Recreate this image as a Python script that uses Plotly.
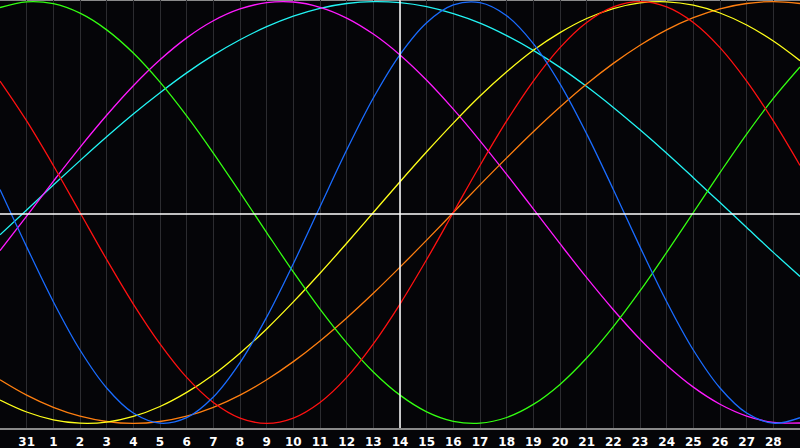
import plotly.graph_objects as go

# days shown: -1 .. 29 (0 = the 31st of previous month)
days = list(range(-1, 30))
tick_days = list(range(0, 29))
tick_labels = ["31"] + [str(d) for d in range(1, 29)]

# curve values, one per day
blue = [0.109, -0.163, -0.423, -0.652, -0.832, -0.951, -0.999, -0.973, -0.875, -0.712,
        -0.496, -0.243, 0.027, 0.296, 0.543, 0.749, 0.900, 0.984, 0.995, 0.933,
        0.801, 0.610, 0.373, 0.109, -0.163, -0.423, -0.652, -0.832, -0.951, -0.999, -0.973]
red = [0.623, 0.434, 0.223, 0.0, -0.223, -0.434, -0.623, -0.782, -0.901, -0.975,
       -1.0, -0.975, -0.901, -0.782, -0.623, -0.434, -0.223, 0.0, 0.223, 0.434,
       0.623, 0.782, 0.901, 0.975, 1.0, 0.975, 0.901, 0.782, 0.623, 0.434, 0.223]
green = [0.972, 0.999, 0.990, 0.945, 0.866, 0.756, 0.618, 0.458, 0.282, 0.095,
         -0.095, -0.282, -0.458, -0.618, -0.756, -0.866, -0.945, -0.990, -0.999, -0.972,
         -0.910, -0.815, -0.690, -0.541, -0.372, -0.189, 0.0, 0.189, 0.372, 0.541, 0.690]
magenta = [-0.181, -0.017, 0.148, 0.309, 0.461, 0.601, 0.724, 0.828, 0.909, 0.965,
           0.995, 0.998, 0.973, 0.922, 0.846, 0.747, 0.627, 0.490, 0.340, 0.181,
           0.017, -0.148, -0.309, -0.461, -0.601, -0.724, -0.828, -0.909, -0.965, -0.995, -0.998]
yellow = [-0.889, -0.946, -0.983, -0.999, -0.994, -0.967, -0.920, -0.853, -0.769, -0.667,
          -0.552, -0.424, -0.288, -0.146, 0.0, 0.146, 0.288, 0.424, 0.552, 0.667,
          0.769, 0.853, 0.920, 0.967, 0.994, 0.999, 0.983, 0.946, 0.889, 0.813, 0.720]
orange = [-0.793, -0.866, -0.924, -0.966, -0.991, -1.0, -0.991, -0.966, -0.924, -0.866,
          -0.793, -0.707, -0.609, -0.5, -0.383, -0.259, -0.131, 0.0, 0.131, 0.259,
          0.383, 0.5, 0.609, 0.707, 0.793, 0.866, 0.924, 0.966, 0.991, 1.0, 0.991]
cyan = [-0.106, 0.012, 0.130, 0.246, 0.359, 0.467, 0.568, 0.662, 0.746, 0.819,
        0.881, 0.931, 0.968, 0.991, 1.0, 0.995, 0.976, 0.943, 0.898, 0.839,
        0.769, 0.688, 0.597, 0.498, 0.392, 0.281, 0.165, 0.047, -0.071, -0.189, -0.303]

series = [
    (cyan, "#22f4f4"),
    (magenta, "#ff1aff"),
    (orange, "#ff7f10"),
    (yellow, "#ffff1a"),
    (green, "#33ff11"),
    (red, "#ff1111"),
    (blue, "#1a6cff"),
]

fig = go.Figure()
for vals, col in series:
    fig.add_trace(go.Scatter(x=days, y=vals, mode="lines",
                             line=dict(color=col, width=1.3, shape="spline", smoothing=1.0),
                             hoverinfo="skip", showlegend=False))

# today marker and zero line
fig.add_shape(type="line", xref="x", yref="paper", x0=14, x1=14, y0=0, y1=1,
              line=dict(color="white", width=1.5), layer="above")
fig.add_shape(type="line", xref="paper", yref="paper", x0=0, x1=1, y0=0.5, y1=0.5,
              line=dict(color="white", width=1.5), layer="above")
# top border
fig.add_shape(type="line", xref="paper", yref="paper", x0=0, x1=1, y0=1, y1=1,
              line=dict(color="#8a8a8a", width=2), layer="below")

fig.update_layout(
    width=800, height=448,
    margin=dict(l=0, r=0, t=0, b=20),
    paper_bgcolor="#050508",
    plot_bgcolor="#050508",
    xaxis=dict(range=[-1, 29], tickvals=tick_days, ticktext=tick_labels,
               showgrid=True, gridcolor="#2c2c30", gridwidth=1,
               zeroline=False, showline=True, linecolor="#8a8a8a", linewidth=2,
               ticks="", ticklabelstandoff=2,
               tickfont=dict(family="DejaVu Sans", size=12, color="white", weight="bold")),
    yaxis=dict(range=[-1.0218, 1.0076], showgrid=False, zeroline=False,
               showticklabels=False, showline=True, linecolor="#8a8a8a", linewidth=2),
)

fig.write_html("out.html", config={"displayModeBar": False},
               post_script="document.body.style.margin='0';document.body.style.overflow='hidden';")
